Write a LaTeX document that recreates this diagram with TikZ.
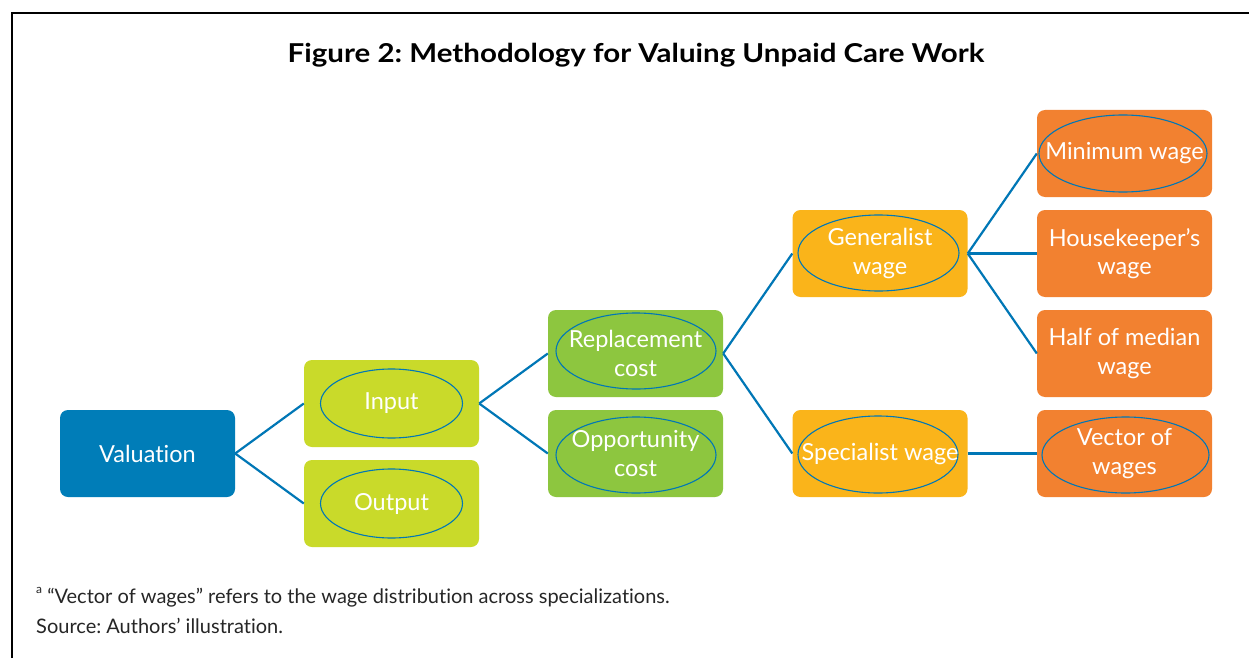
\documentclass[tikz,border=0pt]{standalone}
\usepackage{fontspec}
\setmainfont{Lato}[Ligatures={NoCommon}]
\usetikzlibrary{shapes.geometric}
\frenchspacing
\definecolor{valblue}{RGB}{0,125,184}
\definecolor{lime}{RGB}{201,218,42}
\definecolor{leaf}{RGB}{141,198,63}
\definecolor{gold}{RGB}{250,180,26}
\definecolor{orng}{RGB}{242,129,48}
\definecolor{linkblue}{RGB}{0,119,182}
\begin{document}
\begin{tikzpicture}[x=1pt,y=-1pt,
  box/.style={rectangle, rounded corners=8pt, minimum width=175pt, minimum height=87pt,
    inner sep=0pt, text=white, align=center, font=\fontsize{23.5}{28.5}\selectfont},
  ell/.style={ellipse, draw=linkblue, line width=1.1pt, inner sep=0pt},
  conn/.style={draw=linkblue, line width=2.2pt},
  note/.style={anchor=base west, inner sep=0pt, font=\fontsize{20}{24}\selectfont, text=black!85}]
\useasboundingbox (0,0) rectangle (1249,658);
\fill[white] (0,0) rectangle (1249,658);
\draw[line width=2.6pt] (12,658) -- (12,13) -- (1249,13);
\node[font=\fontsize{26}{30}\selectfont\bfseries, anchor=base, inner sep=0pt] (title) at (636,63) {\scalebox{1.134}[1]{Figure 2: Methodology for Valuing Unpaid Care Work}};
% boxes
\node[box, fill=valblue] (val) at (147.5,453.5) {Valuation};
\node[box, fill=lime] (inp) at (391.5,403.5) {};
\node[box, fill=lime] (out) at (391.5,503.5) {};
\node[box, fill=leaf] (rep) at (635.5,353.5) {};
\node[box, fill=leaf] (opp) at (635.5,453.5) {};
\node[box, fill=gold] (gen) at (880,253.5) {};
\node[box, fill=gold] (spe) at (880,453.5) {};
\node[box, fill=orng] (min) at (1124.5,153.5) {};
\node[box, fill=orng] (hou) at (1124.5,253.5) {Housekeeper's\\wage};
\node[box, fill=orng] (hal) at (1124.5,353.5) {Half of median\\wage};
\node[box, fill=orng] (vec) at (1124.5,453.5) {};
% ellipses
\node[ell, minimum width=142pt, minimum height=69pt] (inpE) at (inp) {};
\node[ell, minimum width=142pt, minimum height=69pt] (outE) at (out) {};
\node[ell, minimum width=160pt, minimum height=76pt] (repE) at (636,351) {};
\node[ell, minimum width=160pt, minimum height=76pt] (oppE) at (636,455) {};
\node[ell, minimum width=161pt, minimum height=76pt] (genE) at (878.5,253) {};
\node[ell, minimum width=160pt, minimum height=77pt] (speE) at (878,454.5) {};
\node[ell, minimum width=168pt, minimum height=77pt] (minE) at (1123,153.5) {};
\node[ell, minimum width=167pt, minimum height=76pt] (vecE) at (1125.5,455) {};
% labels inside ellipses
\node[box, minimum width=0pt, minimum height=0pt] (inpT) at (inp) {Input};
\node[box, minimum width=0pt, minimum height=0pt] (outT) at (out) {Output};
\node[box, minimum width=0pt, minimum height=0pt] (repT) at (rep) {Replacement\\cost};
\node[box, minimum width=0pt, minimum height=0pt] (oppT) at (opp) {Opportunity\\cost};
\node[box, minimum width=0pt, minimum height=0pt] (genT) at (gen) {Generalist\\wage};
\node[box, minimum width=0pt, minimum height=0pt] (speT) at (spe) {Specialist wage};
\node[box, minimum width=0pt, minimum height=0pt] (minT) at (min) {Minimum wage};
\node[box, minimum width=0pt, minimum height=0pt] (vecT) at (vec) {Vector of\\wages};
% connectors
\draw[conn] (val.east) -- (inp.west);
\draw[conn] (val.east) -- (out.west);
\draw[conn] (inp.east) -- (rep.west);
\draw[conn] (inp.east) -- (opp.west);
\draw[conn] (rep.east) -- (gen.west);
\draw[conn] (rep.east) -- (spe.west);
\draw[conn] (gen.east) -- (min.west);
\draw[conn] (gen.east) -- (hou.west);
\draw[conn] (gen.east) -- (hal.west);
\draw[conn] (spe.east) -- (vec.west);
% notes
\node[note] (fn) at (36,603) {\raisebox{0.5em}{\fontsize{12}{14}\selectfont a} “Vector of wages” refers to the wage distribution across specializations.};
\node[note] (src) at (36,633) {Source: Authors’ illustration.};
\end{tikzpicture}
\end{document}
